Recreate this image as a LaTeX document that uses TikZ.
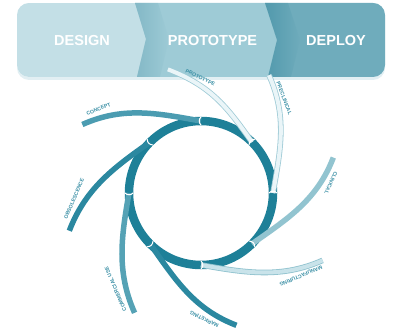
\documentclass[tikz,border=0pt]{standalone}
\usepackage{fontspec}
\usetikzlibrary{shadows,fadings}
\newfontfamily\bannerfont{Liberation Sans}
\definecolor{cDesign}{HTML}{C3DFE6}
\definecolor{cProto}{HTML}{9ECBD6}
\definecolor{cProtoDk}{HTML}{7DB4C3}
\definecolor{cDeploy}{HTML}{6FACBC}
\definecolor{cDeployDk}{HTML}{4B95A9}
\definecolor{cRing}{HTML}{1E8098}
\definecolor{cDark}{HTML}{2B88A0}
\definecolor{cMid}{HTML}{55A2B5}
\definecolor{cConcept}{HTML}{4B9CB1}
\definecolor{cLight}{HTML}{92C4D0}
\definecolor{cPaleFill}{HTML}{EAF5F8}
\definecolor{cPaleLine}{HTML}{9FCBD6}
\definecolor{cPale2Fill}{HTML}{C9E3EA}
\definecolor{cPale2Line}{HTML}{8FC2CE}
\definecolor{cLabel}{HTML}{3A8FA5}
\tikzset{
  phase/.style={text=white, font=\bannerfont\bfseries\fontsize{14.5}{15}\selectfont},
  armdark/.style={draw=cDark, line width=5.5pt},
  armmid/.style={draw=cMid, line width=5.5pt},
  armconcept/.style={draw=cConcept, line width=5.5pt},
  armlight/.style={draw=cLight, line width=5.5pt},
  armpale/.style={draw=cPaleLine, double=cPaleFill, double distance=4pt, line width=0.8pt},
  armpaletwo/.style={draw=cPale2Line, double=cPale2Fill, double distance=4pt, line width=0.8pt},
  lbl/.style={sloped, allow upside down, anchor=south west, inner xsep=0pt, inner ysep=3.6pt,
              text=cLabel, font=\bannerfont\bfseries\fontsize{5.2}{5.5}\selectfont},
}
% #1 start angle, #2 angular advance, #3 outer radius, #4 style, #5 label, #6 label pos
\newcommand{\drawarm}[6]{%
  \draw[#4] ({#1+#2}:#3pt) .. controls +({#1+294}:45pt) and +({#1+80}:45pt) .. (#1:72pt)
    node[lbl, pos=#6] {#5};
  \draw[white, line width=1pt] (#1:68pt) to[bend left=50] (#1:76pt);
}
\begin{document}
\begin{tikzpicture}[x=1pt,y=1pt]
\useasboundingbox (0,0) rectangle (398,-328);
% banner
\path[fill=white, rounded corners=12pt,
  drop shadow={shadow xshift=0pt, shadow yshift=-3pt, opacity=0.3, fill=cPaleLine}]
  (17,-3) rectangle (385,-77);
\begin{scope}
  \clip[rounded corners=12pt] (17,-3) rectangle (385,-77);
  \fill[cDesign] (17,-3) rectangle (385,-77);
  \fill[cProto] (135,-3) -- (146,-39) -- (137,-77) -- (268,-77) -- (277,-40) -- (265,-3) -- cycle;
  \fill[cProtoDk, opacity=0.8, path fading=east] (135,-3) -- (146,-39) -- (137,-77) -- (160,-77) -- (169,-39) -- (158,-3) -- cycle;
  \fill[cDeploy] (265,-3) -- (277,-40) -- (268,-77) -- (390,-77) -- (390,-3) -- cycle;
  \fill[cDeployDk, opacity=0.8, path fading=east] (265,-3) -- (277,-40) -- (268,-77) -- (291,-77) -- (300,-40) -- (288,-3) -- cycle;
\end{scope}
\node[phase] (design) at (82,-41) {DESIGN};
\node[phase] (prototype) at (212.5,-41) {PROTOTYPE};
\node[phase] (deploy) at (336,-41) {DEPLOY};
% cycle
\begin{scope}[shift={(201,-193)}]
  \draw[cRing, line width=8.5pt] (0,0) circle[radius=72pt];
  \drawarm{90}{60}{137}{armconcept}{CONCEPT}{0.04}
  \drawarm{135}{61}{137}{armdark}{OBSOLESCENCE}{0.05}
  \drawarm{180}{61}{137}{armmid}{COMMERCIAL USE}{0.02}
  \drawarm{225}{60}{137}{armdark}{MARKETING}{0.1}
  \drawarm{270}{61}{139}{armpaletwo}{MANUFACTURING}{0.02}
  \drawarm{315}{60}{137}{armlight}{CLINICAL}{0.07}
  \drawarm{0}{60}{136}{armpale}{PRECLINICAL}{0.07}
  \drawarm{45}{60}{128}{armpale}{PROTOTYPE}{0.13}
\end{scope}
\end{tikzpicture}
\end{document}
